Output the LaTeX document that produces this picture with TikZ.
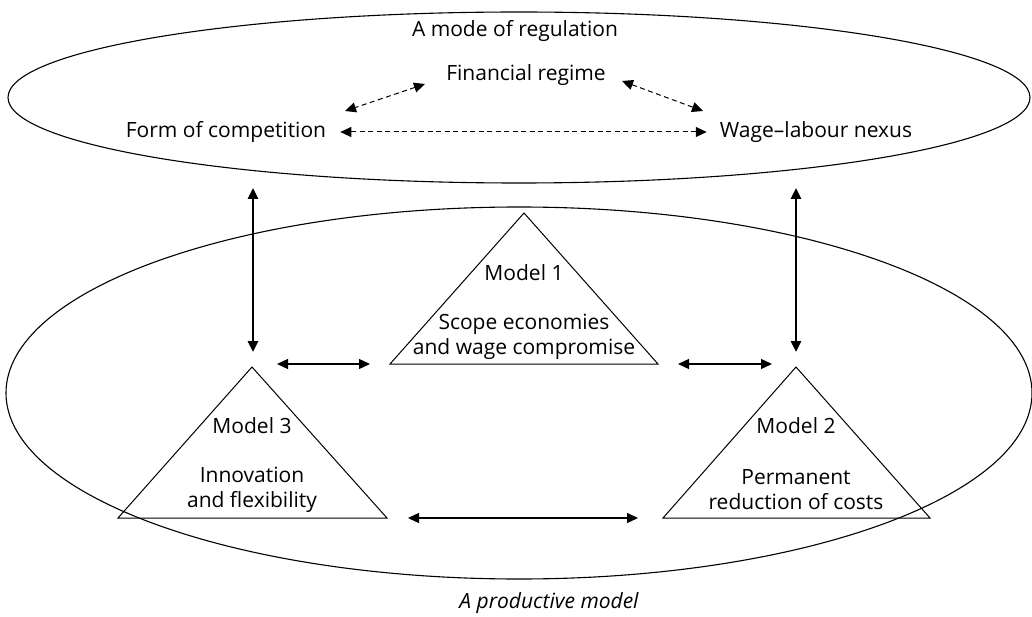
\documentclass[tikz,border=0pt]{standalone}
\usepackage{fontspec}
\setmainfont{Open Sans}
\usepackage{tikz}
\usetikzlibrary{arrows.meta,positioning}
\usetikzlibrary{shapes.geometric}
\tikzset{
	%Define standard arrow tip
	>={Triangle[length=11pt,width=10pt]},
	%Define style for the two ellipses
	realm/.style={
		ellipse,
		draw=black, line width=1.1pt,
		inner sep=0pt},
	% Define style for labels
	mylabel/.style={font=\fontsize{21}{25}\selectfont, inner sep=0pt},
	% Define arrow styles
	dpil/.style={<->, line width=1pt, dash pattern=on 5pt off 3.5pt},
	pil/.style={<->, line width=1.3pt},
	tpil/.style={<->, line width=2.6pt},
	tri/.style={draw=black, line width=1pt, line join=miter}
}

\begin{document}
\begin{tikzpicture}[x=1pt,y=-1pt]
	\useasboundingbox (0,0) rectangle (1032,617);
	% the two realms
	\node[realm, minimum width=1022, minimum height=171] (regulation) at (519,97.5) {};
	\node[realm, minimum width=1026, minimum height=372] (productive) at (519,393) {};
	% node labels of the mode of regulation
	\node[mylabel] (modereg) at (515,31) {A mode of regulation};
	\node[mylabel] (finance) at (526,75) {Financial regime};
	\node[mylabel] (competition) at (226,132) {Form of competition};
	\node[mylabel] (wage) at (816,132) {Wage–labour nexus};
	\node[mylabel, font=\fontsize{21}{25}\selectfont\itshape] (prodmodel) at (549,603) {A productive model};
	% Model triangles
	\draw[tri] (524,213) coordinate (m1top) -- (658,364) coordinate (m1r) -- (390,364) coordinate (m1l) -- cycle;
	\draw[tri] (252,367) coordinate (m3top) -- (387,518) coordinate (m3r) -- (118,518) coordinate (m3l) -- cycle;
	\draw[tri] (796,367) coordinate (m2top) -- (930,518) coordinate (m2r) -- (663,518) coordinate (m2l) -- cycle;
	\node[mylabel] (m1name) at (524,273) {Model 1};
	\node[mylabel, align=center, below=64pt of m1name.center, anchor=center] (m1text) {Scope economies\\and wage compromise};
	\node[mylabel] (m3name) at (252,426) {Model 3};
	\node[mylabel, align=center, below=64pt of m3name.center, anchor=center] (m3text) {Innovation\\and flexibility};
	\node[mylabel] (m2name) at (796,426) {Model 2};
	\node[mylabel, align=center, below=64pt of m2name.center, anchor=center] (m2text) {Permanent\\reduction of costs};
	% arrow ends
	\coordinate (upl) at (253,188);
	\coordinate (upr) at (796,188);
	\coordinate (dnl) at (253,352);
	\coordinate (dnr) at (796,352);
	\coordinate (fl) at (425,84);
	\coordinate (fr) at (622,81);
	\coordinate (cl) at (345,111);
	\coordinate (wl) at (703,111);
	% dashed links
	\draw[dpil] (fl) -- (cl);
	\draw[dpil] (fr) -- (wl);
	\draw[dpil] ([xshift=14pt]competition.east) -- ([xshift=-13pt]wage.west);
	% links between realms
	\draw[tpil] (upl) -- (dnl);
	\draw[tpil] (upr) -- (dnr);
	% links between models
	\draw[pil] ([xshift=-113pt]m1l) -- ([xshift=-20pt]m1l);
	\draw[pil] ([xshift=20pt]m1r) -- ([xshift=114pt]m1r);
	\draw[pil] ([xshift=21pt]m3r) -- ([xshift=-25pt]m2l);
\end{tikzpicture}
\end{document}
